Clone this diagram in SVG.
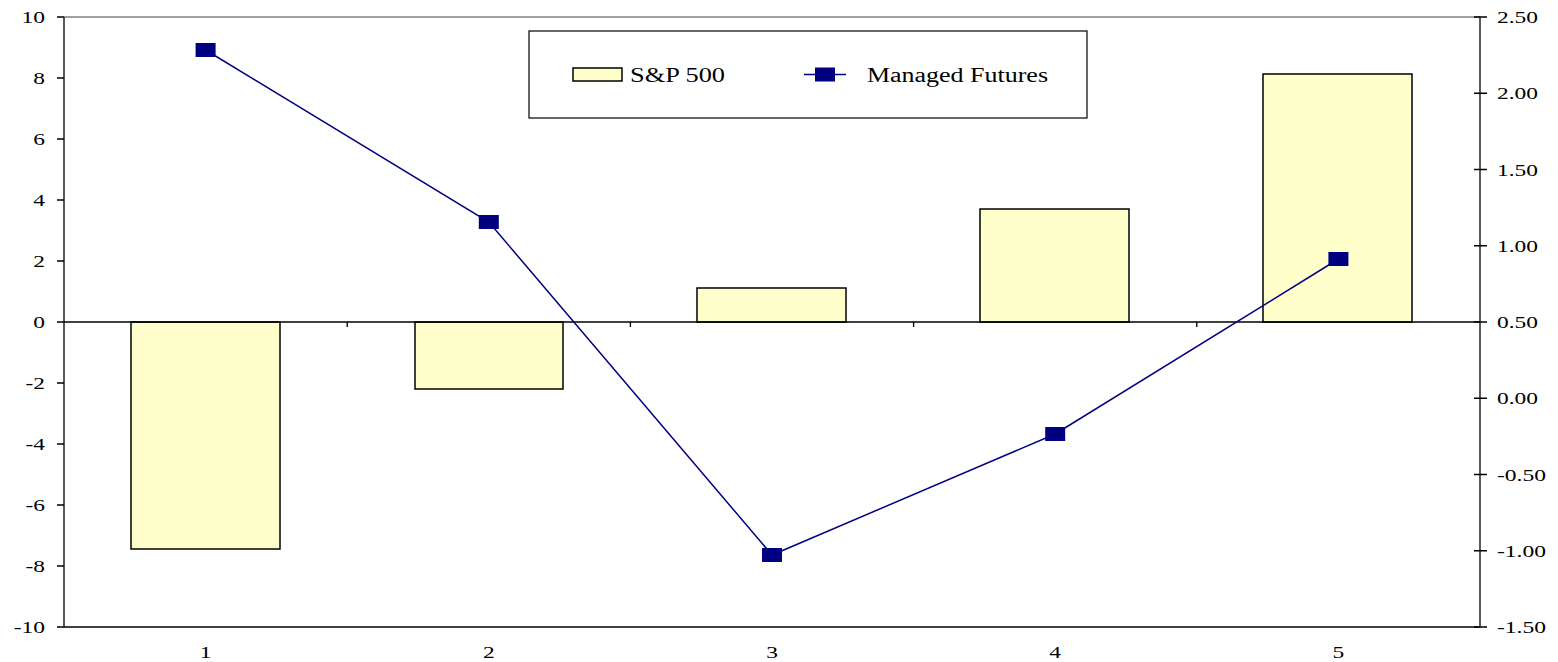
<svg xmlns="http://www.w3.org/2000/svg" width="1558" height="662" viewBox="0 0 1558 662">
<style>
text{font-family:"Liberation Serif","DejaVu Serif",serif;font-size:17px;fill:#000}
.l{text-anchor:end}
.c{text-anchor:middle}
.bar{fill:#FFFFCC;stroke:#000;stroke-width:1.5}
.ax{stroke:#000;stroke-width:1.3;fill:none}
.mk{fill:#000080}
.lg{font-size:20px}
</style>
<rect width="1558" height="662" fill="#fff"/>
<g id="plot-area">
<line x1="64" y1="17" x2="1480" y2="17" stroke="#808080" stroke-width="1.3"/>
<line x1="64" y1="627" x2="1480" y2="627" class="ax"/>
</g>
<g id="bars">
<rect id="bar1" class="bar" x="131" y="322" width="149" height="227"/>
<rect id="bar2" class="bar" x="415" y="322" width="148" height="67"/>
<rect id="bar3" class="bar" x="697" y="288" width="149" height="34"/>
<rect id="bar4" class="bar" x="980" y="209" width="149" height="113"/>
<rect id="bar5" class="bar" x="1263" y="74" width="149" height="248"/>
</g>
<g id="axes">
<line x1="64" y1="17" x2="64" y2="627" class="ax"/>
<line x1="1480" y1="17" x2="1480" y2="627" class="ax"/>
<line x1="64" y1="322" x2="1480" y2="322" class="ax"/>
<path class="ax" d="M57 17H64M57 78H64M57 139H64M57 200H64M57 261H64M57 322H64M57 383H64M57 444H64M57 505H64M57 566H64M57 627H64"/>
<path class="ax" d="M1474 17H1487M1474 93.25H1487M1474 169.5H1487M1474 245.75H1487M1474 322H1487M1474 398.25H1487M1474 474.5H1487M1474 550.75H1487M1474 627H1487"/>
<path class="ax" d="M347.2 322V327M630.4 322V327M913.6 322V327M1196.8 322V327"/>
</g>
<g id="left-labels" class="l" font-family="Liberation Serif, DejaVu Serif, serif">
<text x="45" y="23" textLength="23.5" lengthAdjust="spacingAndGlyphs">10</text>
<text x="45" y="84" textLength="11.7" lengthAdjust="spacingAndGlyphs">8</text>
<text x="45" y="145" textLength="11.7" lengthAdjust="spacingAndGlyphs">6</text>
<text x="45" y="206" textLength="11.7" lengthAdjust="spacingAndGlyphs">4</text>
<text x="45" y="267" textLength="11.7" lengthAdjust="spacingAndGlyphs">2</text>
<text x="45" y="328" textLength="11.7" lengthAdjust="spacingAndGlyphs">0</text>
<text x="45" y="389" textLength="19.5" lengthAdjust="spacingAndGlyphs">-2</text>
<text x="45" y="450" textLength="19.5" lengthAdjust="spacingAndGlyphs">-4</text>
<text x="45" y="511" textLength="19.5" lengthAdjust="spacingAndGlyphs">-6</text>
<text x="45" y="572" textLength="19.5" lengthAdjust="spacingAndGlyphs">-8</text>
<text x="45" y="633" textLength="31.3" lengthAdjust="spacingAndGlyphs">-10</text>
</g>
<g id="right-labels" font-family="Liberation Serif, DejaVu Serif, serif">
<text x="1497" y="23" textLength="41" lengthAdjust="spacingAndGlyphs">2.50</text>
<text x="1497" y="99" textLength="41" lengthAdjust="spacingAndGlyphs">2.00</text>
<text x="1497" y="176" textLength="41" lengthAdjust="spacingAndGlyphs">1.50</text>
<text x="1497" y="252" textLength="41" lengthAdjust="spacingAndGlyphs">1.00</text>
<text x="1497" y="328" textLength="41" lengthAdjust="spacingAndGlyphs">0.50</text>
<text x="1497" y="404" textLength="41" lengthAdjust="spacingAndGlyphs">0.00</text>
<text x="1497" y="481" textLength="49" lengthAdjust="spacingAndGlyphs">-0.50</text>
<text x="1497" y="557" textLength="49" lengthAdjust="spacingAndGlyphs">-1.00</text>
<text x="1497" y="633" textLength="49" lengthAdjust="spacingAndGlyphs">-1.50</text>
</g>
<g id="x-labels" class="c" font-family="Liberation Serif, DejaVu Serif, serif">
<text x="205.6" y="658" textLength="11.7" lengthAdjust="spacingAndGlyphs">1</text>
<text x="488.8" y="658" textLength="11.7" lengthAdjust="spacingAndGlyphs">2</text>
<text x="772" y="658" textLength="11.7" lengthAdjust="spacingAndGlyphs">3</text>
<text x="1055.2" y="658" textLength="11.7" lengthAdjust="spacingAndGlyphs">4</text>
<text x="1338.4" y="658" textLength="11.7" lengthAdjust="spacingAndGlyphs">5</text>
</g>
<g id="connectors">
<polyline points="205.6,50 488.8,222 772,555 1055.2,434 1338.4,259" fill="none" stroke="#000080" stroke-width="1.5"/>
</g>
<g id="markers">
<rect class="mk" x="195.6" y="43" width="20" height="14"/>
<rect class="mk" x="478.8" y="215" width="20" height="14"/>
<rect class="mk" x="762" y="548" width="20" height="14"/>
<rect class="mk" x="1045.2" y="427" width="20" height="14"/>
<rect class="mk" x="1328.4" y="252" width="20" height="14"/>
</g>
<g id="legend">
<rect x="529" y="31" width="558" height="87" fill="#fff" stroke="#000" stroke-width="1.2"/>
<rect class="bar" x="573" y="68" width="49" height="13"/>
<text class="lg" x="630" y="82" textLength="95" lengthAdjust="spacingAndGlyphs" font-family="Liberation Serif, DejaVu Serif, serif">S&amp;P 500</text>
<line x1="804" y1="74.5" x2="846" y2="74.5" stroke="#000080" stroke-width="1.5"/>
<rect class="mk" x="815" y="67.5" width="20" height="14"/>
<text class="lg" x="867" y="82" textLength="181" lengthAdjust="spacingAndGlyphs" font-family="Liberation Serif, DejaVu Serif, serif">Managed Futures</text>
</g>
</svg>
